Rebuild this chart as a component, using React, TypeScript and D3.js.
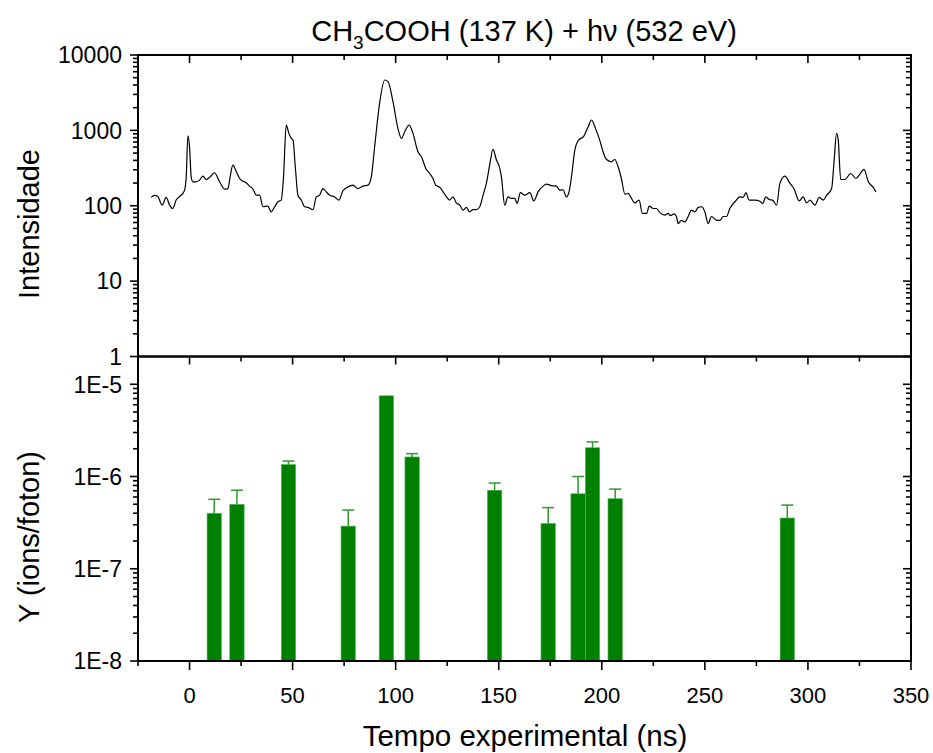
import React from "react";
import * as d3 from "d3";

// Mass spectrum trace (time of flight in ns, intensity in counts)
const traceTime = [
  -18.6, -17.0, -15.4, -13.3, -11.3, -9.7, -8.1, -6.5, -4.0, -2.4, -1.6, -0.8, 0.0, 0.8, 1.6,
  3.2, 4.9, 6.5, 8.1, 10.0, 12.1, 14.6, 17.0, 18.6, 19.7, 21.0, 22.7, 24.3, 25.9, 27.5, 29.1,
  30.7, 32.4, 34.0, 35.6, 38.0, 39.6, 41.3, 42.9, 44.5, 45.6, 46.9, 48.2, 49.4, 50.2, 51.3,
  52.6, 54.2, 55.8, 57.4, 59.9, 61.5, 63.1, 64.7, 66.3, 68.0, 70.4, 72.5, 74.4, 76.9, 79.3,
  81.7, 84.1, 86.6, 88.2, 89.8, 92.2, 94.7, 96.3, 98.7, 101.1, 102.8, 104.4, 106.5, 108.4,
  110.8, 112.5, 114.6, 116.5, 118.1, 119.4, 121.4, 123.0, 124.6, 126.2, 127.8, 129.4, 131.1,
  132.7, 134.3, 135.9, 137.5, 139.2, 140.8, 142.4, 144.0, 145.6, 147.2, 148.9, 150.5, 151.3,
  152.9, 154.5, 156.1, 157.8, 158.9, 160.5, 162.6, 165.1, 167.0, 169.1, 171.5, 173.1, 175.6,
  178.0, 179.6, 181.2, 182.8, 184.1, 185.3, 186.9, 188.5, 191.3, 193.4, 195.0, 197.1, 199.0,
  200.6, 202.3, 204.7, 206.3, 207.9, 209.5, 211.2, 212.8, 214.4, 216.0, 218.1, 219.7, 221.7,
  223.0, 224.9, 226.5, 228.2, 230.6, 232.2, 233.3, 235.0, 236.2, 237.0, 238.7, 240.3, 241.9,
  243.5, 245.1, 246.8, 248.4, 250.0, 251.6, 253.2, 255.7, 257.3, 258.9, 260.5, 262.1, 264.6,
  267.0, 268.6, 269.9, 271.5, 274.3, 276.7, 278.0, 279.6, 281.2, 282.8, 284.8, 286.4, 288.8,
  291.3, 293.2, 295.8, 297.7, 299.4, 301.0, 303.4, 305.5, 307.4, 309.1, 311.5, 312.6, 313.9,
  314.7, 315.9, 318.0, 320.7, 323.3, 325.2, 327.2, 329.3, 331.4, 333.0,
];
const traceIntensity = [
  129, 137, 133, 102, 129, 102, 92, 119, 138, 161, 242, 849, 607, 242, 208,
  208, 219, 247, 223, 242, 274, 208, 166, 169, 242, 346, 282, 230, 212, 202, 182,
  168, 138, 138, 97, 99, 83, 97, 113, 119, 242, 1175, 912, 781, 743, 329,
  138, 119, 97, 95, 89, 131, 138, 169, 153, 138, 131, 119, 158, 178, 188,
  169, 182, 188, 242, 607, 2280, 4656, 4425, 2400, 1062, 781, 960, 1175, 912,
  520, 447, 313, 268, 230, 188, 175, 153, 131, 119, 131, 109, 102,
  87.5, 95, 83, 89, 89, 97, 138, 198, 346, 558, 404, 313, 242,
  102, 131, 125, 125, 107, 149, 138, 149, 116, 153, 182, 194, 185,
  182, 161, 163, 131, 153, 242, 547, 728, 840, 1117, 1372, 1031, 743,
  520, 411, 383, 411, 329, 230, 143, 146, 125, 109, 119, 79, 79,
  99, 92, 92, 81, 75, 79, 74, 78, 72, 58, 64, 61, 72,
  87.5, 83, 95, 97, 83, 58, 72, 64, 64, 72, 72, 92, 113,
  131, 129, 149, 119, 119, 115, 107, 131, 121, 119, 102, 198, 247,
  198, 169, 116, 131, 109, 119, 102, 129, 119, 138, 169, 364, 912,
  743, 223, 223, 268, 230, 263, 304, 208, 179, 153,
];

// Ion yields (ions/photon) with upper error
const barTime = [12, 23, 48, 77, 95.5, 108, 148, 174, 188.5, 195.5, 206.5, 290];
const barYield = [4.0e-7, 5.0e-7, 1.35e-6, 2.9e-7, 7.5e-6, 1.63e-6, 7.1e-7, 3.1e-7, 6.5e-7, 2.05e-6, 5.75e-7, 3.55e-7];
const barError = [1.66e-7, 2.1e-7, 1.2e-7, 1.43e-7, 0, 1.4e-7, 1.4e-7, 1.5e-7, 3.5e-7, 3.2e-7, 1.55e-7, 1.35e-7];
const barWidthNs = 7;

const timeTicks = [0, 50, 100, 150, 200, 250, 300, 350];
const intensityTicks = [1, 10, 100, 1000, 10000];
const yieldTicks = [1e-8, 1e-7, 1e-6, 1e-5];
const yieldTickLabels = ["1E-8", "1E-7", "1E-6", "1E-5"];

const W = 933;
const H = 753;
const X0 = 138;
const X1 = 911;
const TOP_Y0 = 55;
const MID_Y = 356.5;
const BOT_Y1 = 661;
const FONT = "'Liberation Sans', Arial, Helvetica, sans-serif";

const x = d3.scaleLinear().domain([-25, 350]).range([X0, X1]);
const yTop = d3.scaleLog().domain([1, 10000]).range([MID_Y, TOP_Y0]);
const yBot = d3.scaleLog().domain([1e-8, 2e-5]).range([BOT_Y1, MID_Y]);

function logMinors(domain: [number, number]) {
  const out: number[] = [];
  const lo = Math.floor(Math.log10(domain[0]));
  const hi = Math.ceil(Math.log10(domain[1]));
  for (let e = lo; e < hi; e++) {
    for (let k = 2; k <= 9; k++) {
      const v = k * Math.pow(10, e);
      if (v > domain[0] * 1.0001 && v < domain[1] * 0.9999) out.push(v);
    }
  }
  return out;
}

const timeMinor = d3.range(-25, 351, 25).filter((t) => t % 50 !== 0);

export default function App() {
  const line = d3
    .line<number>()
    .x((_, i) => x(traceTime[i]))
    .y((d) => yTop(d))
    .curve(d3.curveMonotoneX);

  const MAJ = 8;
  const MIN = 5;
  const tickStroke = { stroke: "#000", strokeWidth: 1.6 };

  const yAxisTicks = (
    scale: d3.ScaleLogarithmic<number, number>,
    majors: number[],
    key: string
  ) => {
    const dom = scale.domain() as [number, number];
    const minors = logMinors(dom);
    return (
      <g key={key}>
        {majors.map((v) => (
          <g key={`M${v}`}>
            <line x1={X0 - MAJ} x2={X0} y1={scale(v)} y2={scale(v)} {...tickStroke} />
            <line x1={X1} x2={X1 - MAJ} y1={scale(v)} y2={scale(v)} {...tickStroke} />
          </g>
        ))}
        {minors.map((v) => (
          <g key={`m${v}`}>
            <line x1={X0 - MIN} x2={X0} y1={scale(v)} y2={scale(v)} {...tickStroke} />
            <line x1={X1} x2={X1 - MIN} y1={scale(v)} y2={scale(v)} {...tickStroke} />
          </g>
        ))}
      </g>
    );
  };

  const bw = x(barWidthNs) - x(0);

  return (
    <svg
      width={W}
      height={H}
      viewBox={`0 0 ${W} ${H}`}
      style={{ position: "absolute", left: 0, top: 0, background: "#fff" }}
    >
      <rect x={0} y={0} width={W} height={H} fill="#fff" />

      {/* title */}
      <text x={524} y={41} textAnchor="middle" fontFamily={FONT} fontSize={29} fill="#000">
        CH<tspan dy={8} fontSize={19}>3</tspan>
        <tspan dy={-8}>COOH (137 K) + hν (532 eV)</tspan>
      </text>

      {/* upper panel: spectrum */}
      <path d={line(traceIntensity) || ""} fill="none" stroke="#000" strokeWidth={1.2} />

      {/* lower panel: bars */}
      {barTime.map((t, i) => {
        const top = yBot(barYield[i]);
        return (
          <rect
            key={`b${i}`}
            x={x(t) - bw / 2}
            y={top}
            width={bw}
            height={BOT_Y1 - top}
            fill="#008000"
            stroke="#5cb85c"
            strokeWidth={0.6}
          />
        );
      })}
      {barTime.map((t, i) => {
        if (barError[i] <= 0) return null;
        const top = yBot(barYield[i]);
        const cap = yBot(barYield[i] + barError[i]);
        const cx = x(t);
        return (
          <g key={`e${i}`} stroke="#2e9a2e" strokeWidth={1.5}>
            <line x1={cx} x2={cx} y1={top} y2={cap} />
            <line x1={cx - 6} x2={cx + 6} y1={cap} y2={cap} />
          </g>
        );
      })}

      {/* y ticks */}
      {yAxisTicks(yTop, intensityTicks, "yt")}
      {yAxisTicks(yBot, yieldTicks, "yb")}

      {/* x ticks: top of upper panel, top of lower panel (inward), bottom (outward) */}
      {timeTicks.map((t) => (
        <g key={`xt${t}`}>
          <line x1={x(t)} x2={x(t)} y1={TOP_Y0} y2={TOP_Y0 + MAJ} {...tickStroke} />
          <line x1={x(t)} x2={x(t)} y1={MID_Y} y2={MID_Y + MAJ} {...tickStroke} />
          <line x1={x(t)} x2={x(t)} y1={BOT_Y1} y2={BOT_Y1 + MAJ + 1} {...tickStroke} />
        </g>
      ))}
      {timeMinor.map((t) => (
        <g key={`xm${t}`}>
          <line x1={x(t)} x2={x(t)} y1={TOP_Y0} y2={TOP_Y0 + MIN} {...tickStroke} />
          <line x1={x(t)} x2={x(t)} y1={MID_Y} y2={MID_Y + MIN} {...tickStroke} />
          <line x1={x(t)} x2={x(t)} y1={BOT_Y1} y2={BOT_Y1 + MIN} {...tickStroke} />
        </g>
      ))}

      {/* frames */}
      <rect x={X0} y={TOP_Y0} width={X1 - X0} height={MID_Y - TOP_Y0} fill="none" stroke="#000" strokeWidth={2} />
      <rect x={X0} y={MID_Y} width={X1 - X0} height={BOT_Y1 - MID_Y} fill="none" stroke="#000" strokeWidth={2} />

      {/* tick labels */}
      {intensityTicks.map((v) => (
        <text key={`lt${v}`} x={X0 - 16} y={yTop(v)} dy="0.36em" textAnchor="end" fontFamily={FONT} fontSize={23} fill="#000">
          {d3.format("d")(v)}
        </text>
      ))}
      {yieldTicks.map((v, i) => (
        <text key={`lb${v}`} x={X0 - 16} y={yBot(v)} dy="0.36em" textAnchor="end" fontFamily={FONT} fontSize={23} fill="#000">
          {yieldTickLabels[i]}
        </text>
      ))}
      {timeTicks.map((t) => (
        <text key={`lx${t}`} x={x(t)} y={703} textAnchor="middle" fontFamily={FONT} fontSize={22} fill="#000">
          {t}
        </text>
      ))}

      {/* axis titles */}
      <text transform="translate(39,224) rotate(-90)" textAnchor="middle" fontFamily={FONT} fontSize={29} fill="#000">
        Intensidade
      </text>
      <text transform="translate(39,537) rotate(-90)" textAnchor="middle" fontFamily={FONT} fontSize={29} fill="#000">
        Y (ions/foton)
      </text>
      <text x={525} y={746} textAnchor="middle" fontFamily={FONT} fontSize={29.5} fill="#000">
        Tempo experimental (ns)
      </text>
    </svg>
  );
}
